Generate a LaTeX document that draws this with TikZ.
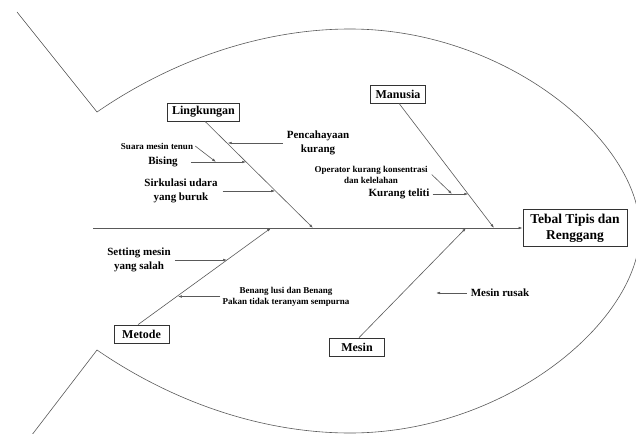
\documentclass[tikz,border=0pt]{standalone}
\usepackage{fontspec}
\setmainfont{Liberation Serif}
\usetikzlibrary{arrows.meta, positioning}

\begin{document}
\begin{tikzpicture}[x=1pt, y=-1pt,
  bone/.style={draw=black!65, line width=0.6pt},
  arr/.style={bone, -{Latex[length=4pt,width=2.6pt]}},
  causebox/.style={draw=black!80, line width=0.7pt, fill=white, font=\fontsize{12}{14}\selectfont\bfseries,
    minimum width=55pt, minimum height=18pt, inner xsep=4.5pt, inner ysep=2pt},
  headbox/.style={causebox, font=\fontsize{13.5}{16}\selectfont\bfseries, align=center,
    minimum width=104pt, minimum height=37pt},
  midtext/.style={font=\fontsize{11}{13.5}\selectfont\bfseries, align=center, inner sep=0pt},
  smalltext/.style={font=\fontsize{9}{11}\selectfont\bfseries, align=center, inner sep=0pt}]
\useasboundingbox (0,0) rectangle (636,433);
\draw [bone] (17,12) -- (97,112)
  .. controls (180,55) and (270,29) .. (350,29)
  .. controls (505,29) and (640,140) .. (640,231)
  .. controls (640,322) and (505,433) .. (350,433)
  .. controls (270,433) and (180,407) .. (97,350) -- (28,440);
\node (head) at (575,228) [headbox] {Tebal Tipis dan\\Renggang};
\node (ling) at (203.5,112) [causebox] {Lingkungan};
\node (manusia) at (398,94) [causebox] {Manusia};
\node (metode) at (141.5,334) [causebox] {Metode};
\node (mesin) at (357,347) [causebox] {Mesin};
\coordinate (tail) at (93,228);
\coordinate (lj) at (313,228);
\coordinate (mj) at (494,228);
\coordinate (tj) at (271,228);
\coordinate (sj) at (466,228);
\draw [arr] (tail) -- (head.west);
\draw [arr] ([xshift=1.5pt]ling.south) -- (lj) coordinate[pos=0.21] (l1) coordinate[pos=0.38] (l2) coordinate[pos=0.65] (l3);
\draw [arr] ([xshift=1pt]manusia.south) -- (mj) coordinate[pos=0.73] (m1);
\draw [arr] ([xshift=-3.5pt]metode.north) -- (tj) coordinate[pos=0.67] (t1) coordinate[pos=0.3] (t2);
\draw [arr] ([xshift=2pt]mesin.north) -- (sj);
\node (cahaya) at (318,143) [midtext] {Pencahayaan\\kurang};
\draw [arr] ([xshift=-4pt]cahaya.west) -- (cahaya.west -| l1);
\node (suara) at (157,146) [smalltext] {Suara mesin tenun};
\node (bising) at (163,162) [midtext] {Bising};
\draw [arr] ([xshift=13pt]bising.east) -- (bising.east -| l2);
\coordinate (bis1) at (216,162);
\draw [arr] ([xshift=2pt]suara.east) -- (bis1);
\node (sirk) at (181,191) [midtext] {Sirkulasi udara\\yang buruk};
\draw [arr] ([xshift=5pt]sirk.east) -- (sirk.east -| l3);
\node (oper) at (371,174.5) [smalltext] {Operator kurang konsentrasi\\dan kelelahan};
\node (teliti) at (399,194) [midtext] {Kurang teliti};
\draw [arr] ([xshift=3pt]teliti.east) -- (teliti.east -| m1);
\coordinate (tel1) at (452,194);
\draw [arr] ([xshift=4pt]oper.east) -- (tel1);
\node (setting) at (139,260) [midtext] {Setting mesin\\yang salah};
\draw [arr] ([xshift=4pt]setting.east) -- (setting.east -| t1);
\node (benang) at (286,296.5) [smalltext] {Benang lusi dan Benang\\Pakan tidak teranyam sempurna};
\draw [arr] ([xshift=-2pt]benang.west) -- (benang.west -| t2);
\node (rusak) at (500,293) [midtext] {Mesin rusak};
\coordinate (rusakend) at (436,293);
\draw [arr] ([xshift=-4pt]rusak.west) -- (rusakend);
\end{tikzpicture}
\end{document}
